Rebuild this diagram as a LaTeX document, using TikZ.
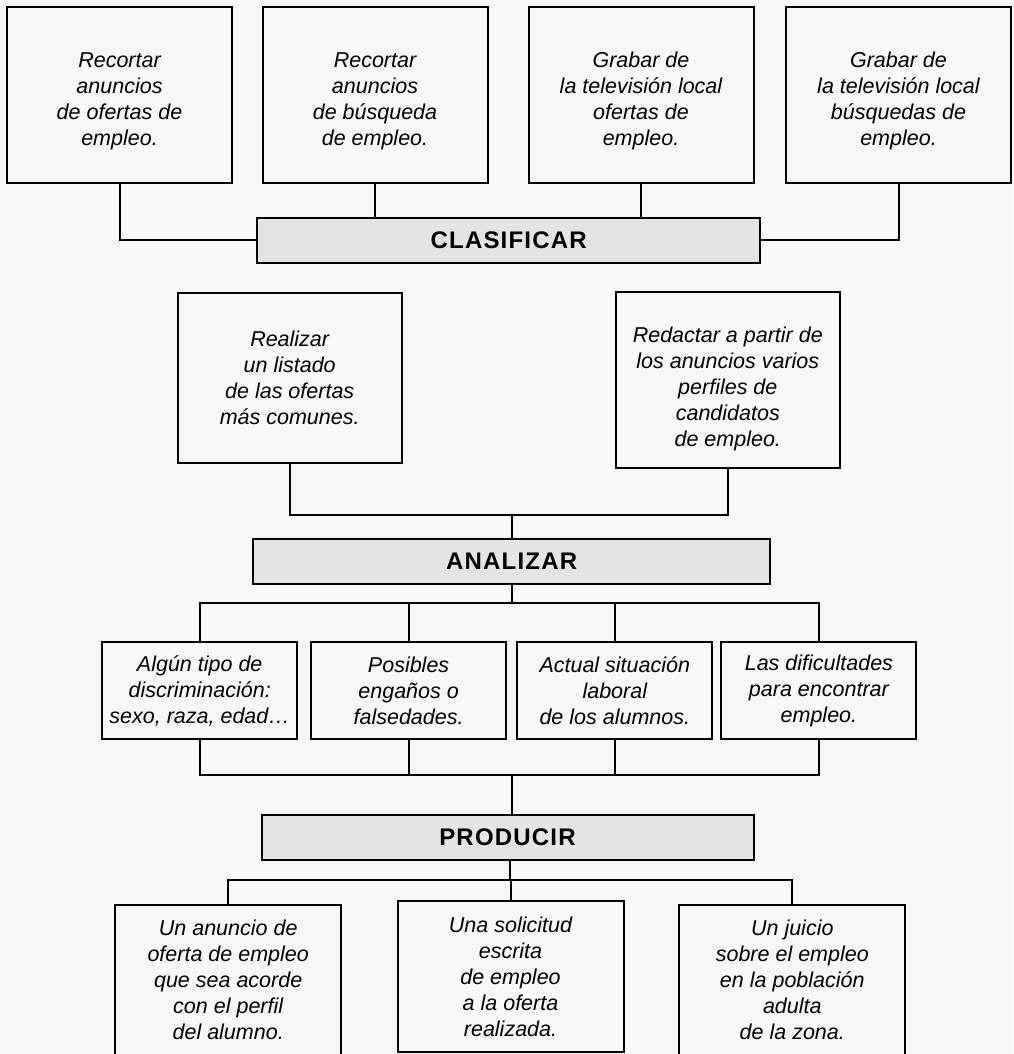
\documentclass[tikz,border=0pt]{standalone}
\usepackage{fontspec}
\setmainfont{Liberation Sans}
\newfontfamily\etapafont{Liberation Sans}[LetterSpace=5]
\usetikzlibrary{calc}
\definecolor{fondo}{HTML}{F7F7F7}
\definecolor{gris}{HTML}{E4E4E4}
\newcommand\bajar[1]{\rule{0pt}{#1}}

\begin{document}
\begin{tikzpicture}[x=1pt,y=-1pt,line width=2pt,
	caja/.style={draw,fill=fondo,align=center,inner sep=2pt,font=\fontsize{21.5}{26}\selectfont\itshape},
	etapa/.style={draw,fill=gris,minimum height=45pt,font=\etapafont\bfseries\fontsize{24}{28}\selectfont}]
	\fill[fondo] (0,0) rectangle (1013,1054);
	\useasboundingbox (0,0) rectangle (1013,1054);
	% fila de arriba
	\foreach \n/\x/\t in {
		t1/119.5/{Recortar\\anuncios\\de ofertas de\\empleo.},
		t2/375/{Recortar\\anuncios\\de búsqueda\\de empleo.},
		t3/641/{Grabar de\\la televisión local\\ofertas de\\empleo.},
		t4/898.5/{Grabar de\\la televisión local\\búsquedas de\\empleo.}}
		\node[caja,minimum width=225pt,minimum height=176pt] (\n) at (\x,95) {\bajar{28pt}\t};
	\node[etapa,minimum width=503pt] (clasificar) at (508.7,240.3) {CLASIFICAR};
	% analizar
	\node[caja,minimum width=224pt,minimum height=170pt] (m1) at (289.7,378) {Realizar\\un listado\\de las ofertas\\más comunes.};
	\node[caja,minimum width=224pt,minimum height=176pt] (m2) at (727.8,379.5) {\bajar{34pt}Redactar a partir de\\los anuncios varios\\perfiles de\\candidatos\\de empleo.};
	\node[etapa,minimum width=517pt] (analizar) at (511.7,561) {ANALIZAR};
	\foreach \n/\x/\t in {
		a1/199.7/{Algún tipo de\\discriminación:\\sexo, raza, edad…},
		a2/408.6/{Posibles\\engaños o\\falsedades.},
		a3/614.8/{Actual situación\\laboral\\de los alumnos.},
		a4/818.9/{Las dificultades\\para encontrar\\empleo.}}
		\node[caja,minimum width=195pt,minimum height=97pt] (\n) at (\x,690.5) {\t};
	% producir
	\node[etapa,minimum width=492pt] (producir) at (507.5,837.5) {PRODUCIR};
	\foreach \n/\x/\y/\t in {
		p1/228.2/980/{Un anuncio de\\oferta de empleo\\que sea acorde\\con el perfil\\del alumno.},
		p2/510.5/976.5/{Una solicitud\\escrita\\de empleo\\a la oferta\\realizada.},
		p3/792.3/980/{Un juicio\\sobre el empleo\\en la población\\adulta\\de la zona.}}
		\node[caja,minimum width=226pt,minimum height=151pt] (\n) at (\x,\y) {\t};
	% lineas
	\draw (t1) |- (clasificar);
	\draw (t4) |- (clasificar);
	\foreach \n in {t2,t3} \draw (\n) -- (\n |- clasificar.north);
	\coordinate (j1) at (511.7,515);
	\draw (m1) |- (j1) -| (m2);
	\draw (j1) -- (j1 |- analizar.north);
	\coordinate (j2) at (511.7,603);
	\draw (j2 |- analizar.south) -- (j2);
	\draw (a1) |- (j2) -| (a4);
	\foreach \n in {a2,a3} \draw (\n) -- (\n |- j2);
	\coordinate (j3) at (511.7,775);
	\draw (a1) |- (j3) -| (a4);
	\foreach \n in {a2,a3} \draw (\n) -- (\n |- j3);
	\draw (j3) -- (j3 |- producir.north);
	\coordinate (j4) at (509.5,880);
	\draw (j4 |- producir.south) -- (j4);
	\draw (p1) |- (j4) -| (p3);
	\draw (p2) -- (p2 |- j4);
\end{tikzpicture}
\end{document}
